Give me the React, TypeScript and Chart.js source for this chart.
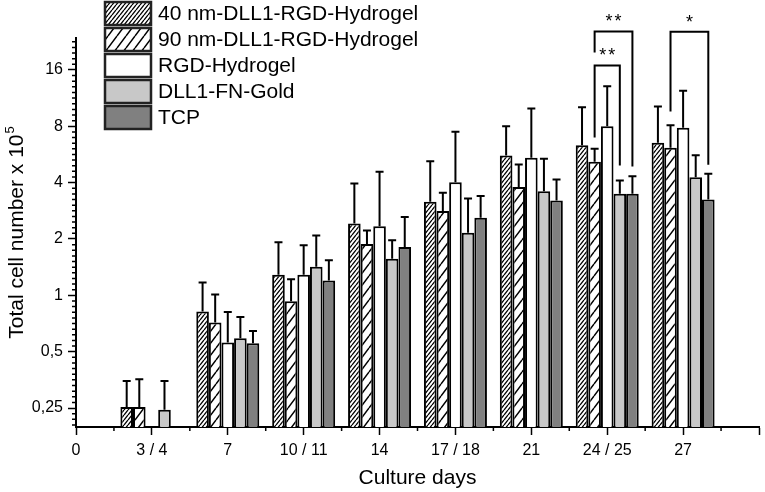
import { useEffect, useRef } from 'react';
import Chart from 'chart.js/auto';

// x categories ("0" and the empty last slot only carry axis ticks)
const dayLabels = ['0', '3 / 4', '7', '10 / 11', '14', '17 / 18', '21', '24 / 25', '27', ''];
const yTickValues = [0.25, 0.5, 1, 2, 4, 8, 16];

const seriesNames = [
  '40 nm-DLL1-RGD-Hydrogel',
  '90 nm-DLL1-RGD-Hydrogel',
  'RGD-Hydrogel',
  'DLL1-FN-Gold',
  'TCP',
];

// mean values (x 10^5 cells)
const nm40 = [null, 0.253, 0.819, 1.29, 2.42, 3.16, 5.59, 6.34, 6.53, null];
const nm90 = [null, 0.253, 0.715, 0.93, 1.88, 2.82, 3.79, 5.17, 6.14, null];
const rgd = [null, null, 0.559, 1.29, 2.34, 4.02, 5.43, 8.01, 7.85, null];
const gold = [null, 0.245, 0.59, 1.42, 1.57, 2.16, 3.6, 3.49, 4.28, null];
const tcp = [null, null, 0.554, 1.2, 1.81, 2.6, 3.21, 3.49, 3.25, null];

// upper end of the error bars
const nm40Err = [null, 0.349, 1.17, 1.92, 3.96, 5.21, 8.01, 10.1, 10.2, null];
const nm90Err = [null, 0.356, 1.01, 1.22, 2.22, 3.53, 5.0, 6.07, 8.11, null];
const rgdErr = [null, null, 0.815, 1.85, 4.57, 7.48, 9.96, 13.1, 12.4, null];
const goldErr = [null, 0.349, 0.766, 2.09, 1.97, 3.29, 5.37, 4.11, 5.61, null];
const tcpErr = [null, null, 0.645, 1.54, 2.62, 3.39, 4.16, 4.33, 4.46, null];

// significance brackets
const bracketGroup = [7, 7, 8];
const bracketFrom = [1, 1, 1];
const bracketTo = [4, 3, 4];
const bracketTop = [25.7, 16.9, 25.6];
const bracketLeftEnd = [19.8, 6.97, 9.6];
const bracketRightEnd = [4.88, 4.94, 4.99];
const bracketLabels = ['**', '**', '*'];

const FONT = "'Liberation Sans', Arial, sans-serif";

function makeHatch(w: number, h: number, lw: number) {
  const c = document.createElement('canvas');
  c.width = w;
  c.height = h;
  const g = c.getContext('2d')!;
  g.fillStyle = '#fff';
  g.fillRect(0, 0, w, h);
  g.strokeStyle = '#000';
  g.lineWidth = lw;
  g.beginPath();
  for (const dx of [-w, 0, w]) {
    g.moveTo(dx, h);
    g.lineTo(dx + w, 0);
  }
  g.stroke();
  return g.createPattern(c, 'repeat')!;
}

const App = () => {
  const canvasRef = useRef<HTMLCanvasElement>(null);

  useEffect(() => {
    if (!canvasRef.current) return;
    const ctx = canvasRef.current.getContext('2d');
    if (!ctx) return;

    const fills: (string | CanvasPattern)[] = [
      makeHatch(4, 5, 1.3),
      makeHatch(9, 12, 1.5),
      '#ffffff',
      '#c8c8c8',
      '#808080',
    ];
    const values = [nm40, nm90, rgd, gold, tcp];
    const errors = [nm40Err, nm90Err, rgdErr, goldErr, tcpErr];

    const overlay = {
      id: 'overlay',
      afterDatasetsDraw(chart: any) {
        const c = chart.ctx;
        const y = chart.scales.y;
        c.save();
        c.strokeStyle = '#000';
        c.lineWidth = 2;
        errors.forEach((errs, i) => {
          const meta = chart.getDatasetMeta(i);
          meta.data.forEach((bar: any, j: number) => {
            const e = errs[j];
            if (e == null || values[i][j] == null) return;
            const { x, y: top } = bar.getProps(['x', 'y'], true);
            const ye = y.getPixelForValue(e);
            c.beginPath();
            c.moveTo(x, top);
            c.lineTo(x, ye);
            c.moveTo(x - 4, ye);
            c.lineTo(x + 4, ye);
            c.stroke();
          });
        });
        c.restore();
      },
      afterDraw(chart: any) {
        const c = chart.ctx;
        const { left, right, top, bottom } = chart.chartArea;
        const xs = chart.scales.x;
        const ys = chart.scales.y;
        c.save();
        c.strokeStyle = '#000';
        c.fillStyle = '#000';

        // minor ticks
        c.lineWidth = 1.5;
        c.beginPath();
        for (let i = 0; i < dayLabels.length - 1; i++) {
          const xm = (xs.getPixelForTick(i) + xs.getPixelForTick(i + 1)) / 2;
          c.moveTo(xm, bottom);
          c.lineTo(xm, bottom + 4);
        }
        for (let k = -4; k < 6; k++) {
          const p0 = ys.getPixelForValue(Math.pow(2, k));
          const p1 = ys.getPixelForValue(Math.pow(2, k + 1));
          for (let m = 1; m < 10; m++) {
            const p = p0 + ((p1 - p0) * m) / 10;
            if (p < top || p > bottom) continue;
            c.moveTo(left - 4, p);
            c.lineTo(left, p);
          }
        }
        c.stroke();

        // significance brackets
        c.lineWidth = 2;
        bracketGroup.forEach((g, b) => {
          const xl = chart.getDatasetMeta(bracketFrom[b]).data[g].x;
          const xr = chart.getDatasetMeta(bracketTo[b]).data[g].x;
          const yt = ys.getPixelForValue(bracketTop[b]);
          c.beginPath();
          c.moveTo(xl, ys.getPixelForValue(bracketLeftEnd[b]));
          c.lineTo(xl, yt);
          c.lineTo(xr, yt);
          c.lineTo(xr, ys.getPixelForValue(bracketRightEnd[b]));
          c.stroke();
          c.font = `18px ${FONT}`;
          c.textAlign = 'center';
          c.textBaseline = 'alphabetic';
          (c as any).letterSpacing = '2px';
          c.fillText(bracketLabels[b], (xl + xr) / 2 + 1, yt - 4);
          (c as any).letterSpacing = '0px';
        });

        // legend
        c.font = `21px ${FONT}`;
        c.textAlign = 'left';
        c.textBaseline = 'middle';
        seriesNames.forEach((name, i) => {
          const ly = 2 + i * 26;
          c.fillStyle = fills[i];
          c.fillRect(105, ly, 46, 23);
          c.lineWidth = 2.5;
          c.strokeStyle = '#222';
          c.strokeRect(105, ly, 46, 23);
          c.fillStyle = '#000';
          c.fillText(name, 158, ly + 12);
        });

        // axis titles
        c.font = `21px ${FONT}`;
        c.textAlign = 'center';
        c.textBaseline = 'alphabetic';
        c.fillText('Culture days', (left + right) / 2, 484);

        c.translate(23, (top + bottom) / 2);
        c.rotate(-Math.PI / 2);
        const main = 'Total cell number x 10';
        c.font = `21px ${FONT}`;
        const w1 = c.measureText(main).width;
        c.font = `13px ${FONT}`;
        const w2 = c.measureText('5').width;
        const sx = -(w1 + w2 + 1) / 2;
        c.textAlign = 'left';
        c.font = `21px ${FONT}`;
        c.fillText(main, sx, 0);
        c.font = `13px ${FONT}`;
        c.fillText('5', sx + w1 + 1, -9);
        c.restore();
      },
    };

    const chart = new Chart(ctx, {
      type: 'bar',
      data: {
        labels: dayLabels,
        datasets: values.map((v, i) => ({
          label: seriesNames[i],
          data: v,
          backgroundColor: fills[i],
          borderColor: '#000',
          borderWidth: 2,
          categoryPercentage: 0.83,
          barPercentage: 1,
        })),
      },
      options: {
        responsive: false,
        animation: false,
        layout: { padding: { top: 38, right: 2, left: 0, bottom: 0 } },
        plugins: {
          legend: { display: false },
          tooltip: { enabled: false },
        },
        scales: {
          x: {
            type: 'category',
            offset: false,
            grid: {
              offset: false,
              drawOnChartArea: false,
              color: '#000',
              tickLength: 8,
              tickWidth: 1.5,
            },
            border: { color: '#000', width: 2 },
            ticks: {
              color: '#000',
              font: { size: 16, family: FONT },
              padding: 6,
              autoSkip: false,
              maxRotation: 0,
            },
            afterFit: (scale: any) => {
              scale.height = 65;
            },
          },
          y: {
            type: 'logarithmic',
            min: 0.198,
            max: 23.7,
            grid: {
              drawOnChartArea: false,
              color: '#000',
              tickLength: 8,
              tickWidth: 1.5,
            },
            border: { color: '#000', width: 2 },
            ticks: {
              color: '#000',
              font: { size: 16, family: FONT },
              padding: 5,
              callback: (v: any) => String(v).replace('.', ','),
            },
            afterBuildTicks: (scale: any) => {
              scale.ticks = yTickValues.map((v) => ({ value: v }));
            },
            afterFit: (scale: any) => {
              scale.width = 76;
            },
          },
        },
      },
      plugins: [overlay],
    });

    return () => {
      chart.destroy();
    };
  }, []);

  return (
    <div style={{ position: 'absolute', left: 0, top: 0, width: 765, height: 492, background: '#fff' }}>
      <canvas ref={canvasRef} width={765} height={492} />
    </div>
  );
};

export default App;
